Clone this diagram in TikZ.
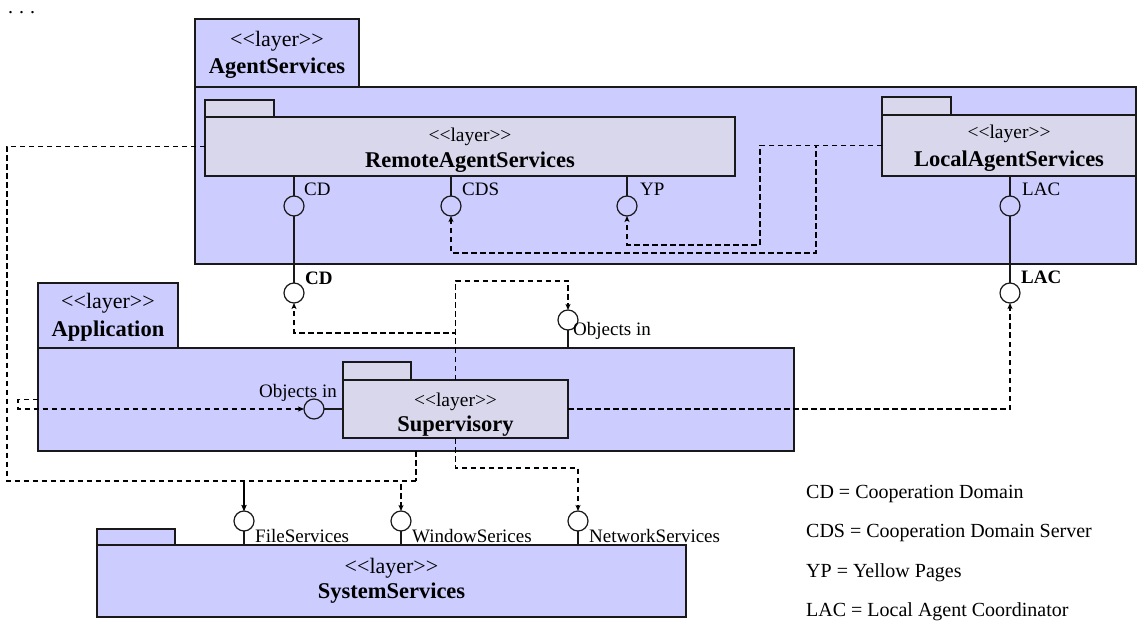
\documentclass[tikz,border=0pt]{standalone}
\usepackage{fontspec}
\setmainfont{Liberation Serif}
\usetikzlibrary{arrows.meta,calc}
\definecolor{outerfill}{RGB}{204,204,255}
\definecolor{innerfill}{RGB}{217,215,236}
\definecolor{edgec}{RGB}{25,25,25}
% stereotype text, kerned apart so the font mapping keeps the angle brackets
\newcommand\layertag{<\kern0pt<layer>\kern0pt>}
\begin{document}
\begin{tikzpicture}[x=1pt, y=-1pt,
  outerpkg/.style={draw=edgec, line width=1.2pt, fill=outerfill, anchor=north west, inner sep=0pt, outer sep=0pt},
  innerpkg/.style={outerpkg, fill=innerfill},
  iface/.style={circle, draw=edgec, line width=1.2pt, minimum size=20pt, inner sep=0pt, outer sep=0pt},
  link/.style={draw=edgec, line width=1.2pt},
  dep/.style={draw=black, line width=1.5pt, dash pattern=on 5.5pt off 3.5pt, -{Stealth[length=6pt,width=5pt,inset=1.5pt]}},
  depline/.style={draw=black, line width=1.5pt, dash pattern=on 5.5pt off 3.5pt},
  stereobig/.style={font=\fontsize{22}{26}\selectfont, inner sep=0pt},
  stereosmall/.style={font=\fontsize{19.5}{23}\selectfont, inner sep=0pt},
  pkgname/.style={font=\fontsize{22.5}{26}\selectfont\bfseries, inner sep=0pt},
  lbl/.style={font=\fontsize{19}{22}\selectfont, inner sep=0pt},
  lblbold/.style={font=\fontsize{19}{22}\selectfont\bfseries, inner sep=0pt},
  legend/.style={font=\fontsize{20}{24}\selectfont, inner sep=0pt, anchor=west}]
\useasboundingbox[fill=white] (0,0) rectangle (1138,628);

\node[font=\fontsize{20}{24}\selectfont, inner sep=0pt, anchor=base west] (ellipsis) at (8,14) {.\kern0.3em.\kern0.3em.};

% ---- AgentServices layer
\node[outerpkg, minimum width=164pt, minimum height=68pt] (agtab) at (195,19) {};
\node[outerpkg, minimum width=941pt, minimum height=177pt] (agent) at (195,87) {};
\node[stereobig] (agst) at (277,41) {\layertag};
\node[pkgname] (agname) at (277,68) {AgentServices};

\node[innerpkg, minimum width=69pt, minimum height=17pt] (remtab) at (205,100) {};
\node[innerpkg, minimum width=530pt, minimum height=59pt] (remote) at (205,117) {};
\node[stereosmall] (remst) at (470,137) {\layertag};
\node[pkgname] (remname) at (470,162) {RemoteAgentServices};

\node[innerpkg, minimum width=69pt, minimum height=18pt] (loctab) at (882,97) {};
\node[innerpkg, minimum width=254pt, minimum height=61pt] (local) at (882,115) {};
\node[stereosmall] (locst) at (1009,134) {\layertag};
\node[pkgname] (locname) at (1009,161) {LocalAgentServices};

% ---- Application layer
\node[outerpkg, minimum width=140pt, minimum height=65pt] (apptab) at (38,283) {};
\node[outerpkg, minimum width=756pt, minimum height=103pt] (app) at (38,348) {};
\node[stereobig] (appst) at (108,303) {\layertag};
\node[pkgname] (appname) at (108,331) {Application};

\node[innerpkg, minimum width=68pt, minimum height=18pt] (suptab) at (343,362) {};
\node[innerpkg, minimum width=225pt, minimum height=58pt] (sup) at (343,380) {};
\node[stereosmall] (supst) at (455.5,402) {\layertag};
\node[pkgname] (supname) at (455.5,426) {Supervisory};

% ---- SystemServices layer
\node[outerpkg, minimum width=78pt, minimum height=16pt] (systab) at (97,529) {};
\node[outerpkg, minimum width=589pt, minimum height=72pt] (sys) at (97,545) {};
\node[stereobig] (sysst) at (391.5,568) {\layertag};
\node[pkgname] (sysname) at (391.5,593) {SystemServices};

% ---- provided interfaces
\node[iface] (cdA) at (294,206) {};
\node[iface] (cds) at (451,206) {};
\node[iface] (yp) at (627,206) {};
\node[iface] (lacA) at (1010,206) {};
\node[iface] (cdB) at (294,293) {};
\node[iface] (lacB) at (1010,293) {};
\node[iface] (objL) at (314,409) {};
\node[iface] (objT) at (568,320) {};
\node[iface] (fs) at (244,521) {};
\node[iface] (ws) at (401,521) {};
\node[iface] (ns) at (578,521) {};

\draw[link] (cdA.north) -- (cdA.north |- remote.south);
\draw[link] (cds.north) -- (cds.north |- remote.south);
\draw[link] (yp.north) -- (yp.north |- remote.south);
\draw[link] (lacA.north) -- (lacA.north |- local.south);
\draw[link] (cdA.south) -- (cdB.north);
\draw[link] (lacA.south) -- (lacB.north);
\draw[link] (objL.east) -- (objL.east -| sup.west);
\draw[link] (objT.south) -- (objT.south |- app.north);
\draw[link] (fs.south) -- (fs.south |- sys.north);
\draw[link] (ws.south) -- (ws.south |- sys.north);
\draw[link] (ns.south) -- (ns.south |- sys.north);

\node[lbl, anchor=west] (lcdA) at (304,189) {CD};
\node[lbl, anchor=west] (lcds) at (462,189) {CDS};
\node[lbl, anchor=west] (lyp) at (640,189) {YP};
\node[lbl, anchor=west] (llacA) at (1022,189) {LAC};
\node[lblbold, anchor=west] (lcdB) at (305,278) {CD};
\node[lblbold, anchor=west] (llacB) at (1021,277) {LAC};
\node[lbl, anchor=east] (lobjL) at (337,393) {Objects in};
\node[lbl, anchor=west] (lobjT) at (573,331) {Objects in};
\node[lbl, anchor=west] (lfs) at (255,536) {FileServices};
\node[lbl, anchor=west] (lws) at (412,536) {WindowSerices};
\node[lbl, anchor=west] (lns) at (589,536) {NetworkServices};

% ---- dependencies
\coordinate (bendYP) at (760,245);
\coordinate (bendCDS) at (816,253);
\coordinate (loopBL) at (7,481);
\coordinate (appDrop) at (416,451);
\coordinate (appJoin) at (416,481);

\draw[dep] (local.west) -| (bendYP) -| (yp.south);
\draw[dep] (local.west) -| (bendCDS) -| (cds.south);
\draw[dep] (remote.west) -| (loopBL) -| (fs.north);
\draw[depline] (appDrop) -- (appJoin);
\draw[dep] (appJoin) -| (fs.north);
\draw[dep] (appJoin) -| (ws.north);
\draw[dep] (sup.north) -- ++(0,-99) -| (objT.north);
\draw[dep] (sup.north) -- ++(0,-47) -| (cdB.south);
\draw[dep] (sup.south) -- ++(0,30) -| (ns.north);
\draw[dep] (sup.east) -| (lacB.south);
\draw[dep] (app.west) -- ++(-20,0) |- (objL.west);

% ---- legend
\node[legend] (legCD) at (806,494) {CD = Cooperation Domain};
\node[legend] (legCDS) at (806,533) {CDS = Cooperation Domain Server};
\node[legend] (legYP) at (806,573) {YP = Yellow Pages};
\node[legend] (legLAC) at (806,612) {LAC = Local Agent Coordinator};
\end{tikzpicture}
\end{document}
